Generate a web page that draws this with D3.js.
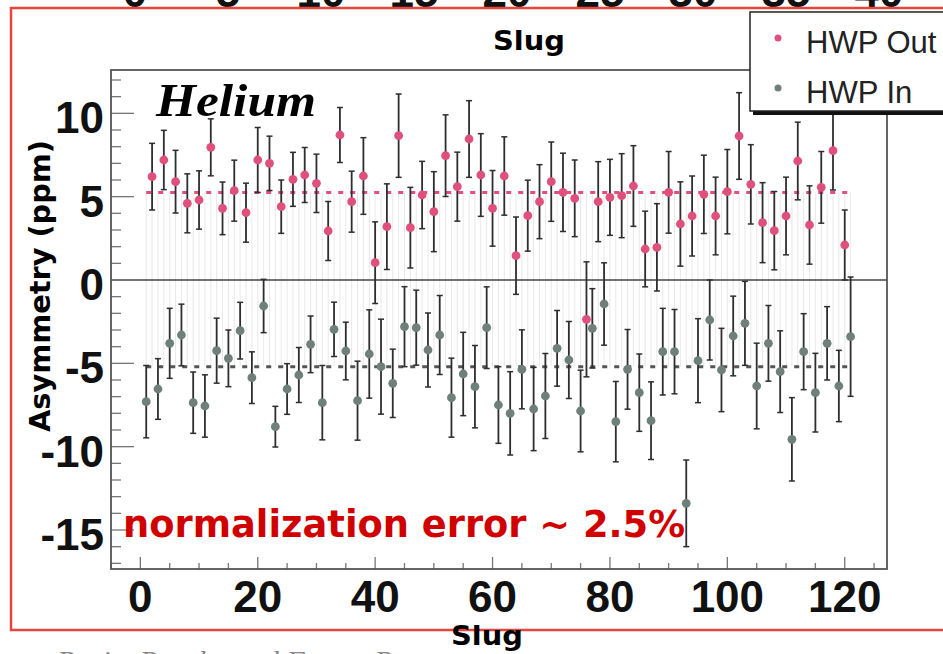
<!DOCTYPE html>
<html><head><meta charset="utf-8">
<script src="https://cdn.jsdelivr.net/npm/d3@7"></script>
<style>body{margin:0;background:#fff}svg{display:block}</style>
</head><body>
<svg id="c" width="943" height="654"></svg>
<script>
// ---- data ----
const outSlug = [2,4,6,8,10,12,14,16,18,20,22,24,26,28,30,32,34,36,38,40,42,44,46,48,50,52,54,56,58,60,62,64,66,68,70,72,74,76,78,80,82,84,86,88,90,92,94,96,98,100,102,104,106,108,110,112,114,116,118,120];
const outAsym = [6.2,7.2,5.9,4.6,4.8,7.96,4.3,5.36,4.04,7.2,7.0,4.4,6.04,6.3,5.8,2.94,8.7,4.7,6.24,1.04,3.2,8.66,3.14,5.1,4.1,7.46,5.6,8.46,6.3,4.3,6.24,1.46,3.86,4.7,5.9,5.26,4.9,-2.36,4.7,4.96,5.06,5.64,1.86,1.96,5.26,3.36,3.84,5.14,3.84,5.3,8.64,5.74,3.44,2.96,3.84,7.14,3.3,5.56,7.76,2.1];
const outErr  = [2.0,1.78,1.88,1.77,1.75,1.71,1.58,1.83,1.77,1.95,1.63,1.6,1.62,1.65,1.75,1.77,1.65,1.83,2.3,2.45,2.57,2.5,2.42,2.02,2.4,2.45,2.07,2.3,2.48,2.27,2.35,2.32,2.13,2.22,2.38,2.35,2.3,3.45,2.4,2.28,2.52,2.42,2.27,2.62,2.45,2.53,2.4,2.35,2.33,2.53,2.6,2.38,2.4,2.35,2.33,2.33,2.35,2.15,2.36,2.1];
const inSlug = [1,3,5,7,9,11,13,15,17,19,21,23,25,27,29,31,33,35,37,39,41,43,45,47,49,51,53,55,57,59,61,63,65,67,69,71,73,75,77,79,81,83,85,87,89,91,93,95,97,99,101,103,105,107,109,111,113,115,117,119,121];
const inAsym = [-7.3,-6.54,-3.8,-3.3,-7.36,-7.56,-4.24,-4.7,-3.04,-5.86,-1.56,-8.8,-6.54,-5.7,-3.86,-7.36,-2.96,-4.26,-7.24,-4.44,-5.2,-6.2,-2.8,-2.86,-4.2,-3.3,-7.06,-5.64,-6.4,-2.86,-7.5,-8.0,-5.36,-7.74,-6.96,-4.1,-4.8,-7.86,-2.9,-1.44,-8.5,-5.36,-6.76,-8.44,-4.3,-4.3,-13.4,-4.84,-2.4,-5.4,-3.36,-2.6,-6.36,-3.8,-5.5,-9.56,-4.3,-6.76,-3.8,-6.36,-3.4];
const inErr  = [2.17,1.82,2.1,1.85,1.84,1.87,1.95,1.7,1.7,1.55,1.6,1.22,1.52,1.65,1.7,2.23,1.63,1.73,2.37,2.65,2.85,2.05,2.4,2.25,2.22,2.37,2.37,2.5,2.47,2.45,2.3,2.5,2.37,2.5,2.55,2.27,2.31,2.45,2.38,2.47,2.41,2.39,2.32,2.33,2.6,2.53,2.6,2.52,2.4,2.5,2.39,2.52,2.57,2.27,2.45,2.5,2.28,2.36,2.2,2.14,3.58];
const meanOut = 5.25, meanIn = -5.2;
const meanSlugRange = [1, 120.5];
const xTicks = [0,20,40,60,80,100,120];
const yTicks = [10,5,0,-5,-10,-15];
const topTicks = [0,5,10,15,20,25,30,35,40];
const seriesNames = ["HWP Out","HWP In"];

// ---- layout ----
const svg = d3.select("#c");
const L=111, R=887, T=70, B=569;
const x = d3.scaleLinear().domain([-5,127.2]).range([L,R]);
const y = d3.scaleLinear().domain([-17.34,12.6]).range([B,T]);
const cOut="#e0507c", cIn="#6f7f79", cBar="#2e2e2e";

// partial axis of a chart above (cut off in the reference too)
const xTop = d3.scaleLinear().domain([0,40]).range([135,879]);
svg.append("g").selectAll("text").data(topTicks).join("text")
  .attr("x",d=>xTop(d)).attr("y",7).attr("text-anchor","middle")
  .attr("font-family","Liberation Sans, Arial, sans-serif").attr("font-weight","bold")
  .attr("font-size",44).attr("fill","#111").text(d=>d);

// slide frame
svg.append("rect").attr("x",11).attr("y",8).attr("width",940).attr("height",622)
  .attr("fill","#fff").attr("stroke","#e5453c").attr("stroke-width",2.5);

// plot frame background
svg.append("rect").attr("x",L).attr("y",T).attr("width",R-L).attr("height",B-T).attr("fill","#fff");

// faint vertical lines
const allSlugs = outSlug.concat(inSlug);
svg.append("g").selectAll("line").data(allSlugs).join("line")
  .attr("x1",d=>x(d)).attr("x2",d=>x(d)).attr("y1",y(meanOut)).attr("y2",y(meanIn))
  .attr("stroke","#e2e2e2").attr("stroke-width",0.8);

// zero line
svg.append("line").attr("x1",L).attr("x2",R).attr("y1",y(0)).attr("y2",y(0))
  .attr("stroke","#444").attr("stroke-width",1.3);

// mean dashed lines
svg.append("line").attr("x1",x(meanSlugRange[0])).attr("x2",x(meanSlugRange[1]))
  .attr("y1",y(meanOut)).attr("y2",y(meanOut)).attr("stroke",cOut).attr("stroke-width",3)
  .attr("stroke-dasharray","5,7");
svg.append("line").attr("x1",x(meanSlugRange[0])).attr("x2",x(meanSlugRange[1]))
  .attr("y1",y(meanIn)).attr("y2",y(meanIn)).attr("stroke","#555").attr("stroke-width",3)
  .attr("stroke-dasharray","5,7");

function drawSeries(sl, va, er, col){
  const d = sl.map((s,i)=>({s, v:va[i], e:er[i]}));
  const g = svg.append("g");
  g.selectAll("line.v").data(d).join("line").attr("class","v")
    .attr("x1",p=>x(p.s)).attr("x2",p=>x(p.s)).attr("y1",p=>y(p.v+p.e)).attr("y2",p=>y(p.v-p.e))
    .attr("stroke",cBar).attr("stroke-width",1.8);
  g.selectAll("line.t").data(d).join("line").attr("class","t")
    .attr("x1",p=>x(p.s)-3).attr("x2",p=>x(p.s)+3).attr("y1",p=>y(p.v+p.e)).attr("y2",p=>y(p.v+p.e))
    .attr("stroke",cBar).attr("stroke-width",1.5);
  g.selectAll("line.b").data(d).join("line").attr("class","b")
    .attr("x1",p=>x(p.s)-3).attr("x2",p=>x(p.s)+3).attr("y1",p=>y(p.v-p.e)).attr("y2",p=>y(p.v-p.e))
    .attr("stroke",cBar).attr("stroke-width",1.5);
  g.selectAll("circle").data(d).join("circle")
    .attr("cx",p=>x(p.s)).attr("cy",p=>y(p.v)).attr("r",4.4).attr("fill",col);
}
drawSeries(inSlug,inAsym,inErr,cIn);
drawSeries(outSlug,outAsym,outErr,cOut);

// ticks
const yMinor = d3.range(-17,13,1);
svg.append("g").selectAll("line").data(yMinor).join("line")
  .attr("x1",L).attr("x2",d=>L+(d%5===0?23:10)).attr("y1",d=>y(d)).attr("y2",d=>y(d))
  .attr("stroke","#777").attr("stroke-width",1.3);
const xMinor = d3.range(-5,128,5);
svg.append("g").selectAll("line").data(xMinor).join("line")
  .attr("x1",d=>x(d)).attr("x2",d=>x(d)).attr("y1",B).attr("y2",d=>B-(d%20===0?12:6))
  .attr("stroke","#777").attr("stroke-width",1.3);

// frame
svg.append("rect").attr("x",L).attr("y",T).attr("width",R-L).attr("height",B-T)
  .attr("fill","none").attr("stroke","#555").attr("stroke-width",1.8);

// tick labels
svg.append("g").selectAll("text").data(xTicks).join("text")
  .attr("x",d=>x(d)).attr("y",612).attr("text-anchor","middle")
  .attr("font-family","Liberation Sans, Arial, sans-serif").attr("font-weight","bold")
  .attr("font-size",44).attr("fill","#111").text(d=>d);
svg.append("g").selectAll("text").data(yTicks).join("text")
  .attr("x",104).attr("y",d=>y(d)+20).attr("text-anchor","end")
  .attr("font-family","Liberation Sans, Arial, sans-serif").attr("font-weight","bold")
  .attr("font-size",44).attr("fill","#111").text(d=>d);

// titles
svg.append("text").attr("x",529).attr("y",50).attr("text-anchor","middle")
  .attr("font-family","DejaVu Sans, sans-serif").attr("font-weight","bold").attr("font-size",27)
  .attr("textLength",72).attr("lengthAdjust","spacingAndGlyphs").attr("fill","#000").text("Slug");
svg.append("text").attr("x",487).attr("y",645).attr("text-anchor","middle")
  .attr("font-family","DejaVu Sans, sans-serif").attr("font-weight","bold").attr("font-size",27)
  .attr("textLength",72).attr("lengthAdjust","spacingAndGlyphs").attr("fill","#000").text("Slug");
svg.append("text").attr("transform","translate(50,286) rotate(-90)").attr("text-anchor","middle")
  .attr("font-family","DejaVu Sans, sans-serif").attr("font-weight","bold").attr("font-size",28)
  .attr("textLength",292).attr("lengthAdjust","spacingAndGlyphs").attr("fill","#000").text("Asymmetry (ppm)");

svg.append("text").attr("x",156).attr("y",116)
  .attr("font-family","Liberation Serif, Times New Roman, serif").attr("font-weight","bold").attr("font-style","italic")
  .attr("font-size",46).attr("textLength",160).attr("lengthAdjust","spacingAndGlyphs").attr("fill","#000").text("Helium");

svg.append("text").attr("x",123).attr("y",537)
  .attr("font-family","DejaVu Sans, sans-serif").attr("font-weight","bold").attr("font-size",37)
  .attr("textLength",562).attr("lengthAdjust","spacingAndGlyphs").attr("fill","#d00000").text("normalization error ~ 2.5%");

// footer (cut off in the reference too)
svg.append("text").attr("x",57).attr("y",671)
  .attr("font-family","Liberation Serif, serif").attr("font-style","italic").attr("font-size",30)
  .attr("fill","#888").text("Parity Results and Future Prospects");

// legend
const lg = svg.append("g");
lg.append("rect").attr("x",753).attr("y",15).attr("width",200).attr("height",100).attr("fill","#111");
lg.append("rect").attr("x",750).attr("y",12).attr("width",200).attr("height",99)
  .attr("fill","#fff").attr("stroke","#222").attr("stroke-width",1.5);
const legY = [38,88];
const legC = [cOut,cIn];
lg.selectAll("circle").data(seriesNames).join("circle")
  .attr("cx",778).attr("cy",(d,i)=>legY[i]).attr("r",3.5).attr("fill",(d,i)=>legC[i]);
lg.selectAll("text").data(seriesNames).join("text")
  .attr("x",806).attr("y",(d,i)=>legY[i]+15)
  .attr("font-family","Liberation Sans, Arial, sans-serif").attr("font-size",31).attr("fill","#222")
  .text(d=>d);
</script>
</body></html>
